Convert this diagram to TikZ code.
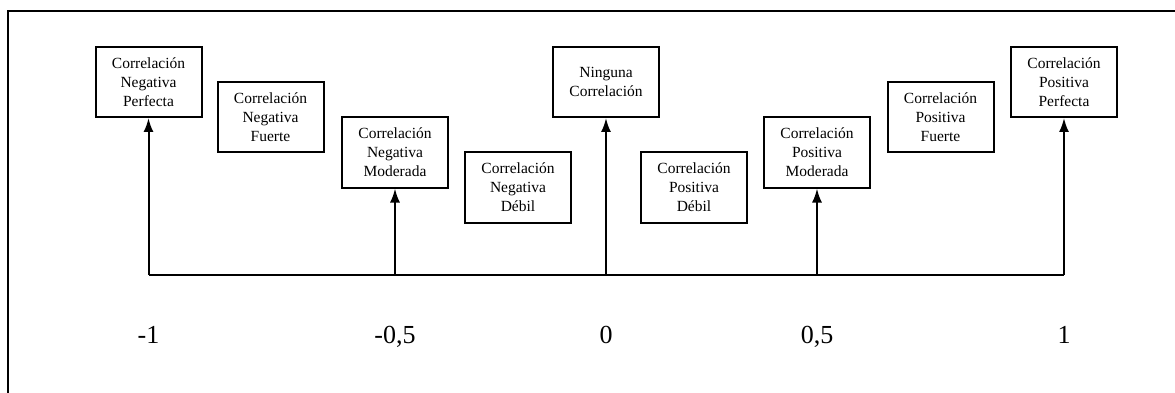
\documentclass[tikz,border=0pt]{standalone}
\usepackage{fontspec}
\setmainfont{Liberation Serif}
\usetikzlibrary{arrows.meta}
\tikzset{flecha/.style={-{Latex[length=14pt,width=10pt]}}}
\tikzset{caja/.style={draw,line width=2pt,minimum width=106pt,minimum height=70pt,
    inner sep=0pt,align=center,font=\fontsize{15.5}{19}\selectfont},
  valor/.style={anchor=base,font=\fontsize{26}{30}\selectfont}}

\begin{document}
\begin{tikzpicture}[x=1pt,y=-1pt,line width=2pt]
            \useasboundingbox (0,0) rectangle (1175,393);
            \draw (8,393) -- (8,11) -- (1175,11);
            \node[caja] (npf) at (148.5,82) {Correlación\\Negativa\\Perfecta};
            \node[caja] (nfu) at (270.5,117) {Correlación\\Negativa\\Fuerte};
            \node[caja] (nmo) at (395,152.5) {Correlación\\Negativa\\Moderada};
            \node[caja] (nde) at (518,187.5) {Correlación\\Negativa\\Débil};
            \node[caja] (nin) at (606,82) {Ninguna\\Correlación};
            \node[caja] (pde) at (694,187.5) {Correlación\\Positiva\\Débil};
            \node[caja] (pmo) at (817,152.5) {Correlación\\Positiva\\Moderada};
            \node[caja] (pfu) at (940.5,117) {Correlación\\Positiva\\Fuerte};
            \node[caja] (ppf) at (1064,82) {Correlación\\Positiva\\Perfecta};
            \coordinate (e1) at (148.5,275);
            \coordinate (e2) at (395,275);
            \coordinate (e3) at (606,275);
            \coordinate (e4) at (817,275);
            \coordinate (e5) at (1064,275);
            \draw (e1) -- (e5);
            \foreach \a/\b in {e1/npf,e2/nmo,e3/nin,e4/pmo,e5/ppf}
                \draw[flecha] (\a) -- (\b);
            \node[valor] (v1) at (148.5,343) {-1};
            \node[valor] (v2) at (395,343) {-0,5};
            \node[valor] (v3) at (606,343) {0};
            \node[valor] (v4) at (817,343) {0,5};
            \node[valor] (v5) at (1064,343) {1};
        \end{tikzpicture}
\end{document}
